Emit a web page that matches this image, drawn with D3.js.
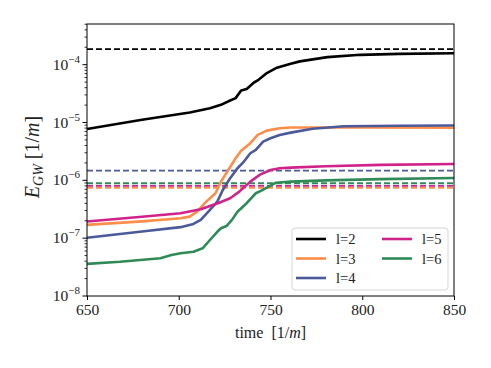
<!DOCTYPE html>
<html>
<head>
<meta charset="utf-8">
<script src="https://cdn.jsdelivr.net/npm/d3@7"></script>
<style>
  body { margin: 0; background: #fff; }
</style>
</head>
<body>
<script>
// values
var t2 = [650, 680, 706, 717, 723, 728, 731, 734, 737, 741, 743, 748, 753, 761, 766, 781, 799, 820, 850];
var v2 = [7.7e-6, 1.12e-5, 1.49e-5, 1.77e-5, 2.02e-5, 2.4e-5, 2.64e-5, 3.58e-5, 3.79e-5, 4.92e-5, 5.33e-5, 7.16e-5, 8.74e-5, 1.04e-4, 1.14e-4, 1.35e-4, 1.48e-4, 1.54e-4, 1.58e-4];
var t3 = [650, 680, 701, 706, 710, 715, 720, 723, 727, 731, 734, 739, 743, 748, 755, 761, 800, 850];
var v3 = [1.7e-7, 1.95e-7, 2.21e-7, 2.36e-7, 2.87e-7, 4.28e-7, 5.98e-7, 9.5e-7, 1.51e-6, 2.41e-6, 3.26e-6, 4.39e-6, 6.1e-6, 7.24e-6, 7.97e-6, 8.2e-6, 8.2e-6, 8.1e-6];
var t4 = [650, 680, 701, 708, 712, 717, 721, 724, 728, 732, 735, 739, 742, 746, 750, 755, 761, 773, 790, 820, 850];
var v4 = [1.02e-7, 1.3e-7, 1.55e-7, 1.76e-7, 2.07e-7, 3.08e-7, 4.28e-7, 6.82e-7, 1.09e-6, 1.62e-6, 2.02e-6, 2.94e-6, 3.36e-6, 4.68e-6, 5.35e-6, 6.1e-6, 6.68e-6, 7.8e-6, 8.6e-6, 8.8e-6, 8.9e-6];
var t5 = [650, 680, 701, 712, 717, 722, 728, 733, 739, 744, 750, 755, 761, 780, 810, 850];
var v5 = [1.94e-7, 2.35e-7, 2.7e-7, 3.16e-7, 3.6e-7, 4.11e-7, 4.9e-7, 6.37e-7, 9.5e-7, 1.24e-6, 1.51e-6, 1.62e-6, 1.66e-6, 1.75e-6, 1.85e-6, 1.92e-6];
var t6 = [650, 668, 690, 696, 701, 708, 713, 717, 721, 723, 726, 729, 732, 737, 742, 745, 749, 753, 761, 780, 810, 850];
var v6 = [3.6e-8, 3.9e-8, 4.5e-8, 5.1e-8, 5.48e-8, 5.84e-8, 6.68e-8, 9.3e-8, 1.29e-7, 1.48e-7, 1.62e-7, 2.07e-7, 2.87e-7, 4.02e-7, 5.98e-7, 6.64e-7, 7.78e-7, 9.1e-7, 9.5e-7, 1.0e-6, 1.05e-6, 1.1e-6];
// dashed reference levels
var ref = [1.85e-4, 7.4e-7, 1.47e-6, 8.0e-7, 8.9e-7];
var labels = ["l=2", "l=3", "l=4", "l=5", "l=6"];
var colors = ["#000000", "#fd8d49", "#4b5a9a", "#d0228b", "#2e8b57"];
var xTicks = [650, 700, 750, 800, 850];
var yTicks = [-8, -7, -6, -5, -4];

var series = [[t2, v2], [t3, v3], [t4, v4], [t5, v5], [t6, v6]];

var FONT = "'Liberation Serif', 'DejaVu Serif', serif";
var W = 491, H = 368;
var m = { t: 24, r: 37, b: 72, l: 87 },
  width = W - m.l - m.r,
  height = H - m.t - m.b;

var x = d3.scaleLinear().domain([650, 850]).range([0, width]);
var y = d3.scaleLog().domain([1e-8, 5.05e-4]).range([height, 0]);

var svg = d3.select("body").append("svg")
  .attr("width", W)
  .attr("height", H)
  .attr("font-family", FONT);
var g = svg.append("g")
  .attr("transform", "translate(" + m.l + "," + m.t + ")");

// dashed levels first (under the curves)
ref.forEach(function(r, i) {
  g.append("line")
    .attr("x1", x(650)).attr("x2", x(850))
    .attr("y1", y(r)).attr("y2", y(r))
    .attr("stroke", colors[i])
    .attr("stroke-width", 1.8)
    .attr("stroke-dasharray", "6,3");
});

var line = d3.line()
  .x(function(d) { return x(d[0]); })
  .y(function(d) { return y(d[1]); });

series.forEach(function(s, i) {
  var pts = s[0].map(function(t, j) { return [t, s[1][j]]; });
  g.append("path")
    .datum(pts)
    .attr("fill", "none")
    .attr("stroke", colors[i])
    .attr("stroke-width", 2.6)
    .attr("stroke-linejoin", "round")
    .attr("d", line);
});

// frame
g.append("rect")
  .attr("width", width).attr("height", height)
  .attr("fill", "none").attr("stroke", "#000").attr("stroke-width", 1);

// x axis
var xAxis = d3.axisBottom(x).tickValues(xTicks).tickSize(4).tickPadding(4).tickFormat(d3.format("d"));
var gx = g.append("g")
  .attr("transform", "translate(0," + height + ")")
  .call(xAxis)
  .attr("font-family", FONT)
  .attr("font-size", 15.5);
gx.select(".domain").remove();
gx.selectAll("text").attr("fill", "#222");

// y axis: minor ticks
var minor = [];
for (var e = -8; e <= -4; e++) {
  for (var k = 2; k <= 9; k++) {
    var v = k * Math.pow(10, e);
    if (v <= y.domain()[1]) minor.push(v);
  }
}
g.selectAll(".minor").data(minor).enter().append("line")
  .attr("x1", -2.5).attr("x2", 0)
  .attr("y1", function(d) { return y(d); })
  .attr("y2", function(d) { return y(d); })
  .attr("stroke", "#000").attr("stroke-width", 0.8);

var gy = g.append("g");
yTicks.forEach(function(p) {
  var yy = y(Math.pow(10, p));
  gy.append("line")
    .attr("x1", -4.5).attr("x2", 0)
    .attr("y1", yy).attr("y2", yy)
    .attr("stroke", "#000").attr("stroke-width", 1);
  var tx = gy.append("text")
    .attr("x", -7)
    .attr("y", yy + 5)
    .attr("text-anchor", "end")
    .attr("fill", "#222")
    .attr("font-size", 15.5);
  tx.append("tspan").text("10");
  tx.append("tspan").attr("dy", -7).attr("font-size", 11).text("\u2212" + (-p));
});

// axis labels
var xl = svg.append("text")
  .attr("x", m.l + width / 2)
  .attr("y", 338)
  .attr("text-anchor", "middle")
  .attr("fill", "#222")
  .attr("font-size", 16);
xl.append("tspan").text("time\u00a0\u00a0[1/");
xl.append("tspan").attr("font-style", "italic").text("m");
xl.append("tspan").text("]");

var yl = svg.append("text")
  .attr("transform", "translate(39," + 157 + ") rotate(-90)")
  .attr("text-anchor", "middle")
  .attr("fill", "#222")
  .attr("font-size", 20);
yl.append("tspan").attr("font-style", "italic").text("E");
yl.append("tspan").attr("font-style", "italic").attr("font-size", 14).attr("dy", 4).text("GW");
yl.append("tspan").attr("dy", -4).text("\u00a0[1/");
yl.append("tspan").attr("font-style", "italic").text("m");
yl.append("tspan").text("]");

// legend
var lg = svg.append("g").attr("transform", "translate(292,228)");
lg.append("rect")
  .attr("width", 156).attr("height", 62)
  .attr("rx", 3)
  .attr("fill", "#fff").attr("fill-opacity", 0.8)
  .attr("stroke", "#d6d6d6").attr("stroke-width", 1);
labels.forEach(function(lab, i) {
  var col = i < 3 ? 0 : 1, row = i < 3 ? i : i - 3;
  var ox = 4 + col * 86, oy = 11 + row * 19.5;
  lg.append("line")
    .attr("x1", ox).attr("x2", ox + 30)
    .attr("y1", oy).attr("y2", oy)
    .attr("stroke", colors[i]).attr("stroke-width", 2.6);
  lg.append("text")
    .attr("x", ox + 40).attr("y", oy + 5)
    .attr("fill", "#222")
    .attr("font-size", 14.5)
    .text(lab);
});
</script>
</body>
</html>
